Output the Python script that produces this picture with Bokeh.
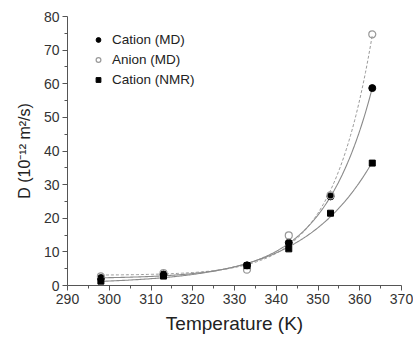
import numpy as np
from bokeh.plotting import figure
from bokeh.models import Range1d, Legend, LegendItem, FixedTicker
from bokeh.embed import file_html
from bokeh.resources import INLINE

# ---- data ----
temperature = [298, 313, 333, 343, 353, 363]
cation_md = [2.2, 3.3, 6.0, 12.7, 26.5, 58.7]
anion_md = [2.7, 3.7, 4.7, 14.9, 26.8, 74.7]
cation_nmr = [1.3, 2.8, 5.9, 10.9, 21.5, 36.4]

x_ticks = [290, 300, 310, 320, 330, 340, 350, 360, 370]
y_ticks = [0, 10, 20, 30, 40, 50, 60, 70, 80]


def exp_fit(xs, ys):
    """Least-squares fit y = C + A*exp(B*(x-x0)), B found by grid search."""
    xs = np.asarray(xs, float)
    ys = np.asarray(ys, float)
    x0 = xs.min()
    best = None
    for b in np.linspace(0.01, 0.3, 2000):
        e = np.exp(b * (xs - x0))
        M = np.vstack([np.ones_like(e), e]).T
        coef, *_ = np.linalg.lstsq(M, ys, rcond=None)
        r = np.sum((M @ coef - ys) ** 2)
        if best is None or r < best[0]:
            best = (r, b, coef)
    _, b, coef = best
    xf = np.linspace(xs.min(), xs.max(), 200)
    return xf, coef[0] + coef[1] * np.exp(b * (xf - x0))


FONT = "Liberation Sans"
FW, FH = 334, 269

p = figure(
    width=413, height=333,
    frame_width=FW, frame_height=FH,
    min_border_left=67, min_border_right=12, min_border_top=16, min_border_bottom=48,
    x_range=Range1d(290, 370), y_range=Range1d(0, 80),
    output_backend="svg", toolbar_location=None,
)
p.outline_line_color = None
p.grid.visible = False

# fitted curves
xf, yf = exp_fit(temperature, anion_md)
p.line(xf, yf, line_color="#9a9a9a", line_width=1, line_dash="3 2")
xf, yf = exp_fit(temperature, cation_md)
p.line(xf, yf, line_color="#8a8a8a", line_width=1.1)
xf, yf = exp_fit(temperature, cation_nmr)
p.line(xf, yf, line_color="#8a8a8a", line_width=1.1)

# markers
r_cat = p.scatter(temperature, cation_md, marker="circle", size=7,
                  fill_color="black", line_color="black")
r_an = p.scatter(temperature, anion_md, marker="circle", size=7,
                 fill_color="white", fill_alpha=0.0, line_color="#999999", line_width=1.2)
r_nmr = p.scatter(temperature, cation_nmr, marker="square", size=6,
                  fill_color="black", line_color="black")

legend = Legend(
    items=[
        LegendItem(label="Cation (MD)", renderers=[r_cat]),
        LegendItem(label="Anion (MD)", renderers=[r_an]),
        LegendItem(label="Cation (NMR)", renderers=[r_nmr]),
    ],
    location=(25, FH - 21 - 50),
    background_fill_alpha=0, border_line_color=None,
    padding=0, margin=0, spacing=5,
    glyph_width=12, glyph_height=13, label_height=13,
    label_standoff=8,
    label_text_font=FONT, label_text_font_size="13.5px", label_text_color="#222222",
)
p.add_layout(legend)

# axes
for ax in (p.xaxis[0], p.yaxis[0]):
    ax.axis_line_color = "#555555"
    ax.major_tick_line_color = "#555555"
    ax.minor_tick_line_color = "#555555"
    ax.major_tick_out = 5
    ax.major_tick_in = 0
    ax.minor_tick_out = 3
    ax.minor_tick_in = 0
    ax.major_label_text_font = FONT
    ax.major_label_text_font_size = "14px"
    ax.major_label_text_color = "#333333"
    ax.major_label_standoff = 3
    ax.axis_label_text_font = FONT
    ax.axis_label_text_font_style = "normal"
    ax.axis_label_text_color = "#222222"

p.xaxis.ticker = FixedTicker(ticks=x_ticks,
                             minor_ticks=[t + 5 for t in x_ticks[:-1]])
p.yaxis.ticker = FixedTicker(ticks=y_ticks,
                             minor_ticks=[t + 5 for t in y_ticks[:-1]])

p.xaxis.axis_label = "Temperature (K)"
p.xaxis.axis_label_text_font_size = "19px"
p.xaxis.axis_label_standoff = 6

p.yaxis.axis_label = "D (10⁻¹² m²/s)"
p.yaxis.axis_label_text_font_size = "16px"
p.yaxis.axis_label_standoff = 8

open("out.html", "w").write(file_html(p, INLINE))
